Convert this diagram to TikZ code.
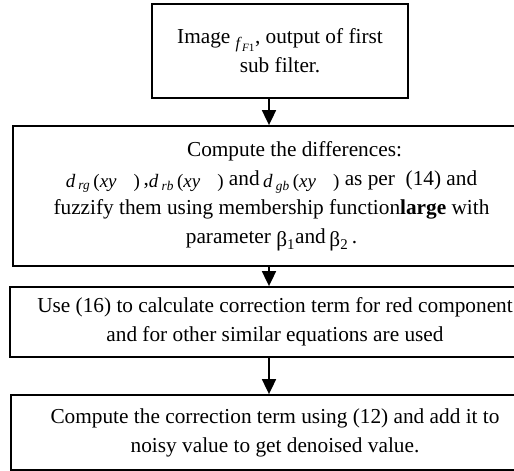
\documentclass[tikz,border=0pt]{standalone}
\usepackage{fontspec}
\setmainfont{Liberation Serif}
\usetikzlibrary{arrows.meta}

\newcommand{\dterm}[1]{\raisebox{-2pt}{{\fontsize{19}{29}\selectfont\textit{d}\,\textsubscript{\textit{#1}}\,(\textit{xy}\hspace{17pt})}}}

\begin{document}
\begin{tikzpicture}[x=1pt,y=1pt]
    % `stepbox' is used for the process boxes.
    % `flow' is used for the arrows between them.
    \tikzstyle{stepbox} = [draw,line width=1.8pt,align=center,inner sep=0pt,font=\fontsize{21.3}{29}\selectfont]
    \tikzstyle{flow} = [line width=1.8pt,-{Triangle[width=14pt,length=15pt]}]
    %
    \useasboundingbox (0,0) rectangle (514,-471);
    \clip (0,0) rectangle (514,-471);
    \coordinate (axis) at (269,0);

    \node[stepbox,minimum width=256pt,minimum height=94pt] (img) at (280,-51)
      {Image \raisebox{-5pt}{\fontsize{16}{16}\selectfont\textit{f}\textsubscript{\textit{F}1}}, output of first\\ sub filter.};

    \node[stepbox,minimum width=517pt,minimum height=140pt] (diff) at (271.5,-196)
      {\hspace*{46pt}Compute the differences:\\
       \dterm{rg}\,,\dterm{rb} and\,\dterm{gb} as per \ (14) and\\
       fuzzify them using membership function\textbf{large} with\\
       parameter \raisebox{-3pt}{β\textsubscript{1}}and\,\raisebox{-3pt}{β\textsubscript{2}}\,.};

    \node[stepbox,minimum width=530pt,minimum height=70pt] (corr) at (275,-322)
      {Use (16) to calculate correction term for red component\\
       and for other similar equations are used};

    \node[stepbox,minimum width=528pt,minimum height=75pt] (denoise) at (275,-432.5)
      {Compute the correction term using (12) and add it to\\
       noisy value to get denoised value.};

    % Draw arrows.
    \draw[flow] (img.south -| axis) -- (diff.north -| axis);
    \draw[flow] (diff.south -| axis) -- (corr.north -| axis);
    \draw[flow] (corr.south -| axis) -- (denoise.north -| axis);
\end{tikzpicture}
\end{document}
